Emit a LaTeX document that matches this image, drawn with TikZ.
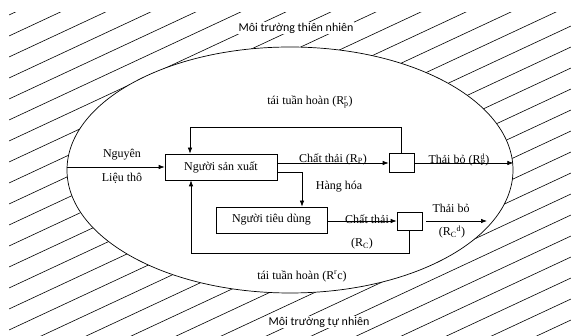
\documentclass[tikz,border=0pt]{standalone}
\usepackage{fontspec}
\setmainfont{Liberation Serif}
\newfontfamily\labelfont{Carlito}
\usepackage{tikz}
\usetikzlibrary{arrows.meta,shapes.geometric,positioning}

\newcommand{\supsub}[2]{\rlap{\textsuperscript{#1}}\textsubscript{#2}}

\begin{document}
\begin{tikzpicture}[x=1pt,y=-1pt,>={Latex[length=6pt,width=4.5pt]},line width=0.7pt,
    font=\fontsize{12}{14}\selectfont,
    actor/.style={draw,rectangle,minimum width=111pt,minimum height=26pt,inner sep=0pt},
    bin/.style={draw,rectangle,minimum width=25pt,minimum height=18pt,inner sep=0pt},
    env/.style={draw,ellipse,fill=white,minimum width=446pt,minimum height=246pt,inner sep=0pt},
    hatch/.style={line width=0.6pt},
    zone/.style={fill=white,inner sep=1pt,font=\labelfont\fontsize{12}{14}\selectfont},
    lbl/.style={inner sep=1pt}]
            \useasboundingbox (0,0) rectangle (571,336);

            % hatching of the surroundings
            \begin{scope}
                \clip (9,13) rectangle (571,336);
                \foreach \c in {-1,...,27}
                    \draw[hatch] (9,36+21*\c) -- (571,36+21*\c-262);
            \end{scope}

            \node   [env]                                   (env) at (290,170) {};
            \node   [zone]                                  (tn) at (296,28) {Môi trường thiên nhiên};
            \node   [zone]                                  (tu) at (319,322) {Môi trường tự nhiên};

            \node   [actor,minimum width=112pt]             (nsx) at (221,167) {Người sản xuất};
            \node   [actor]                                 (ntd) at (271.5,220) {Người tiêu dùng};
            \node   [bin,minimum height=19pt]               (bp) at (401.5,163) {};
            \node   [bin]                                   (bc) at (409.5,221) {};

            \coordinate (hh) at (302,172);
            \coordinate (rp) at (190,127);
            \coordinate (rc) at (191,253);
            \coordinate (cd) at (487,221);

            \draw   [->] (env.west |- nsx) -- (nsx.west);
            \draw   [->] (nsx.east |- bp) -- (bp.west);
            \draw   [->] (nsx.east |- hh) -- (hh) -- (hh |- ntd.north);
            \draw   [->] (bp.north) |- (rp) -- (rp |- nsx.north);
            \draw   [->] (bp.east) -- (env.east |- bp);
            \draw   [->] (ntd.east |- bc) -- (bc.west);
            \draw   [->] ([xshift=4pt]bc.east) -- (cd);
            \draw   [->] (bc.south) |- (rc) -- (rc |- nsx.south);

            \node   [lbl]   (ng) at (122,155) {Nguyên};
            \node   [lbl]   (lt) at (122,178) {Liệu thô};
            \node   [lbl]   (ctp) at (333,159) {Chất thải (R\textsubscript{P})};
            \node   [lbl]   (tbp) at (459,160) {Thải bỏ (R\supsub{d}{P})};
            \node   [lbl]   (hang) at (339,187) {Hàng hóa};
            \node   [lbl]   (ctc) at (367,219) {Chất thải};
            \node   [lbl]   (rcl) at (362,244) {(R\textsubscript{C})};
            \node   [lbl]   (tbc) at (451,208) {Thải bỏ};
            \node   [lbl]   (rcd) at (452,232) {(R\textsubscript{C}\textsuperscript{d})};
            \node   [lbl]   (ttp) at (310,102) {tái tuần hoàn (R\supsub{r}{p})};
            \node   [lbl]   (ttc) at (302,276) {tái tuần hoàn (R\textsuperscript{r}c)};
        \end{tikzpicture}
\end{document}
